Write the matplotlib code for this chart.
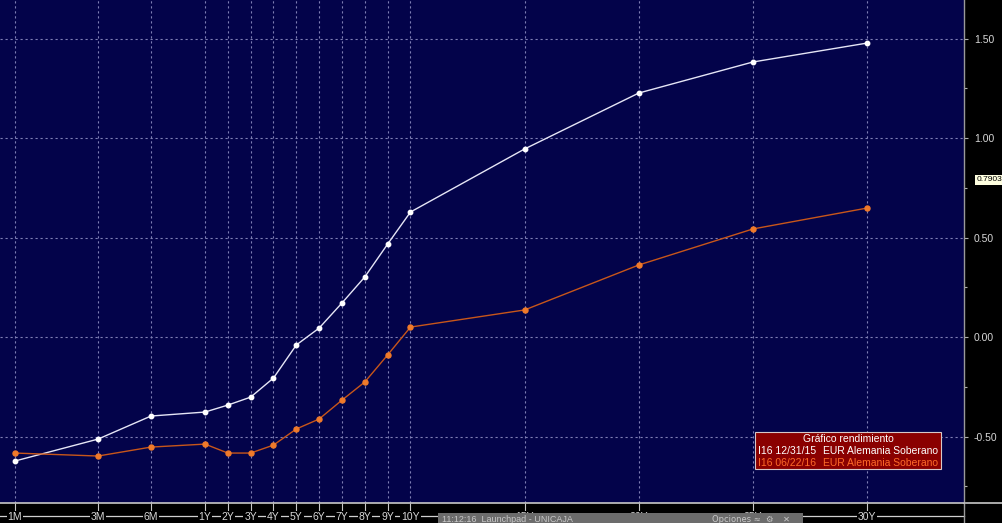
import numpy as np
import matplotlib
matplotlib.use('Agg')
import matplotlib.pyplot as plt
from matplotlib.patches import Rectangle
from matplotlib.lines import Line2D

# ---------------- data ----------------
tenors = ['1M', '3M', '6M', '1Y', '2Y', '3Y', '4Y', '5Y', '6Y', '7Y', '8Y', '9Y',
          '10Y', '15Y', '20Y', '25Y', '30Y']
maturity_years = [1/12, 0.25, 0.5, 1, 2, 3, 4, 5, 6, 7, 8, 9, 10, 15, 20, 25, 30]
yield_dec15 = [-0.623, -0.513, -0.397, -0.377, -0.342, -0.302, -0.206, -0.040,
               0.045, 0.171, 0.302, 0.467, 0.628, 0.945, 1.226, 1.382, 1.477]
yield_jun16 = [-0.583, -0.598, -0.553, -0.538, -0.583, -0.583, -0.543, -0.462,
               -0.412, -0.317, -0.226, -0.090, 0.050, 0.136, 0.362, 0.543, 0.648]
y_major = [-0.5, 0.0, 0.5, 1.0, 1.5]
y_minor = [-0.75, -0.25, 0.25, 0.75, 1.25]
last_value = 0.7903
legend_title = 'Gráfico rendimiento'
legend_dates = ['I16 12/31/15', 'I16 06/22/16']
legend_name = 'EUR Alemania Soberano'

# ---------------- layout ----------------
W, H = 1003, 523
fig = plt.figure(figsize=(W / 100, H / 100), dpi=100, facecolor='black')


def fx(px):
    return px / W


def fy(py):
    return 1 - py / H


BG = '#03034a'
GRID = '#7e7eb4'
WHITE_LINE = '#e6e6f6'
ORANGE_LINE = '#c8561a'
ORANGE_MK = '#f07a2a'

ax = fig.add_axes([0, fy(503), fx(964), 503 / H])
ax.set_facecolor(BG)

# Bloomberg-like tenor scale: stretched short end, linear beyond 1Y
SCALE_YRS = [0, 1/12, 0.25, 0.5, 1, 40]
SCALE_POS = [-41.5, 0, 83, 136, 190, 190 + 39 * 22.83]


def fwd(x):
    return np.interp(x, SCALE_YRS, SCALE_POS)


def inv(p):
    return np.interp(p, SCALE_POS, SCALE_YRS)


ax.set_xscale('function', functions=(fwd, inv))
ax.set_xlim(float(inv(-15)), float(inv(949)))
ax.set_ylim(-0.834, 1.6935)

ax.plot(maturity_years, yield_dec15, color=WHITE_LINE, lw=1.0, marker='o',
        ms=3.2, mfc='white', mec='white', zorder=4)
ax.plot(maturity_years, yield_jun16, color=ORANGE_LINE, lw=1.0, marker='o',
        ms=3.6, mfc=ORANGE_MK, mec=ORANGE_MK, zorder=4)

# grid
ax.set_xticks(maturity_years)
ax.set_xticklabels(tenors)
ax.set_yticks(y_major)
ax.set_yticklabels([f'{v:.2f}' for v in y_major])
ax.set_yticks(y_minor, minor=True)
ax.grid(True, which='major', color=GRID, ls=(0, (2, 2.5)), lw=0.8)
ax.set_axisbelow(True)

ax.yaxis.tick_right()
ax.tick_params(axis='y', which='major', direction='out', length=3, width=0.8,
               colors='#b0b0b0', labelcolor='#d8d8d8', labelsize=7.5, pad=4)
ax.tick_params(axis='y', which='minor', direction='out', length=2, width=0.8,
               colors='#b0b0b0')
ax.tick_params(axis='x', direction='out', length=6, width=0.8, colors='#c8c8c8',
               labelcolor='#d8d8d8', labelsize=7.5, pad=0.3)
for lab in ax.get_xticklabels():
    lab.set_fontfamily('Liberation Sans')
    lab.set_bbox(dict(facecolor='black', edgecolor='none', pad=0.6))
for lab in ax.get_yticklabels():
    lab.set_fontfamily('Liberation Sans')

for side in ['left', 'top']:
    ax.spines[side].set_visible(False)
ax.spines['bottom'].set_color('#c8c8c8')
ax.spines['bottom'].set_linewidth(1.2)
ax.spines['right'].set_color('#9a9a9a')
ax.spines['right'].set_linewidth(1.0)

# figure-level decorations
fig.add_artist(Line2D([0, fx(964)], [fy(515.5)] * 2, color='#d0d0d0', lw=0.9,
                      zorder=-5))
fig.add_artist(Line2D([fx(964), 1], [fy(503)] * 2, color='#c8c8c8', lw=1.2,
                      zorder=-5))
fig.add_artist(Line2D([fx(964)] * 2, [0, fy(503)], color='#9a9a9a', lw=1.0,
                      zorder=-5))

# last value tag on the right axis
ax.annotate(f'{last_value:.4f}', xy=(1, last_value), xycoords=('axes fraction', 'data'),
            xytext=(9, 0), textcoords='offset points', ha='left', va='center',
            fontsize=6, family='Liberation Sans', color='black',
            bbox=dict(facecolor='#ffffe0', edgecolor='none', pad=1.0),
            annotation_clip=False)

# legend box
fig.add_artist(Rectangle((fx(755), fy(469)), fx(941) - fx(755), fy(432) - fy(469),
                         facecolor='#8a0000', edgecolor='#d8c8c8', lw=0.8, zorder=10))
fig.text(fx(848), fy(439), legend_title, ha='center', va='center', fontsize=7.5,
         color='white', family='Liberation Sans', zorder=11)
row_colors = ['white', '#ff6a28']
for i, (d, c) in enumerate(zip(legend_dates, row_colors)):
    yy = fy(451 + i * 11.5)
    fig.text(fx(758), yy, d, ha='left', va='center', fontsize=7.5, color=c,
             family='Liberation Sans', zorder=11)
    fig.text(fx(823), yy, legend_name, ha='left', va='center', fontsize=7.5,
             color=c, family='Liberation Sans', zorder=11)

# taskbar overlay at the bottom
fig.add_artist(Rectangle((fx(438), 0), fx(803) - fx(438), fy(513), facecolor='#6c6c6c',
                         edgecolor='none', zorder=20))
fig.text(fx(442), fy(519), '11:12:16  Launchpad - UNICAJA', ha='left', va='center',
         fontsize=6.5, color='#c8c8c8', family='Liberation Sans', zorder=21)
fig.text(fx(712), fy(519), 'Opciones \u2248  \u2699 _ \u2715', ha='left', va='center',
         fontsize=6, color='#c8c8c8', family='DejaVu Sans', zorder=21)

fig.savefig('out.png', dpi=100, facecolor='black')
